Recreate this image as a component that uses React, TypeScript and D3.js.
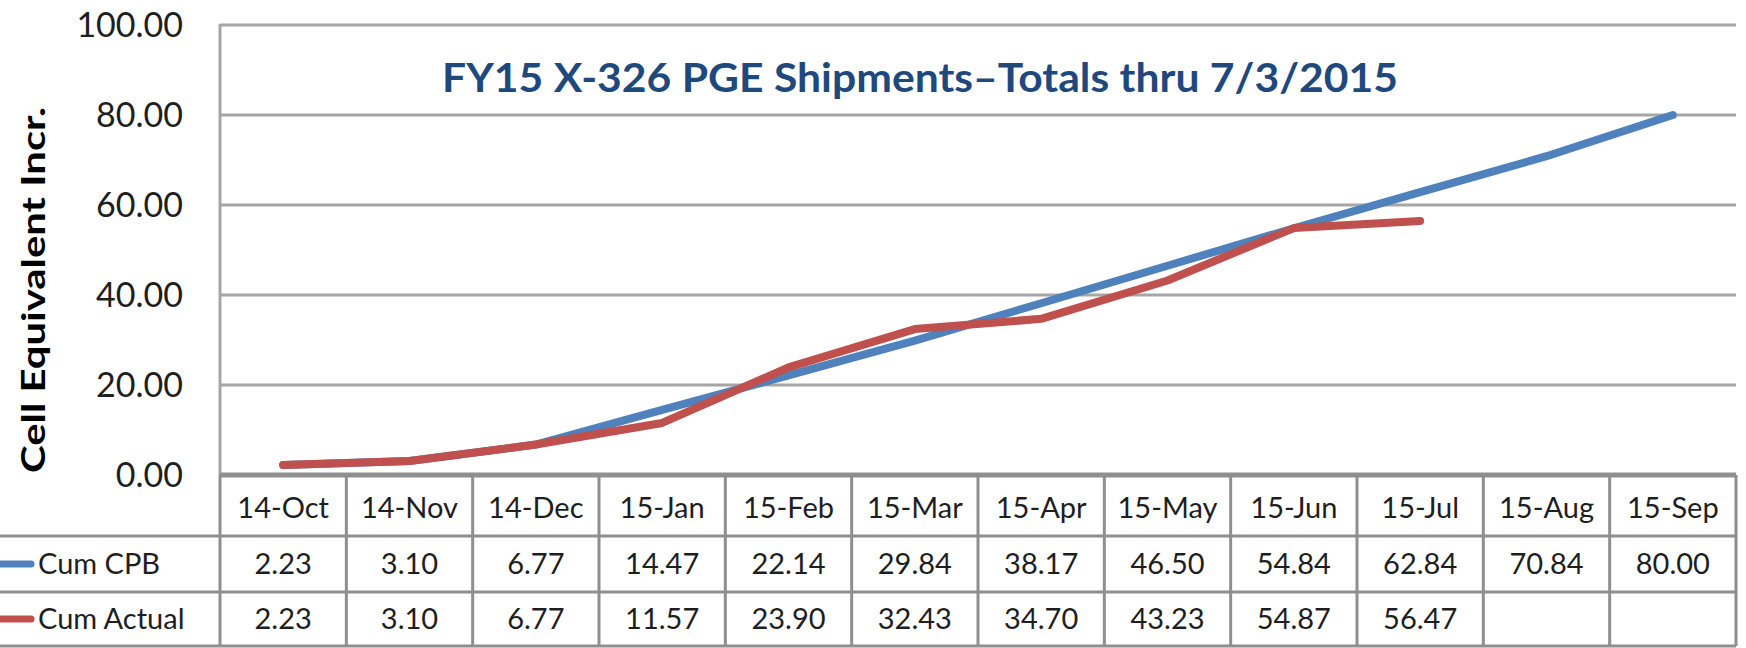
import React from "react";
import * as d3 from "d3";

const categories = ["14-Oct", "14-Nov", "14-Dec", "15-Jan", "15-Feb", "15-Mar", "15-Apr", "15-May", "15-Jun", "15-Jul", "15-Aug", "15-Sep"];
const cumCPB: (number | null)[] = [2.23, 3.10, 6.77, 14.47, 22.14, 29.84, 38.17, 46.50, 54.84, 62.84, 70.84, 80.00];
const cumActual: (number | null)[] = [2.23, 3.10, 6.77, 11.57, 23.90, 32.43, 34.70, 43.23, 54.87, 56.47, null, null];
const yTicks = [0, 20, 40, 60, 80, 100];
const seriesNames = ["Cum CPB", "Cum Actual"];
const seriesColors = ["#4F81BD", "#C0504D"];
const title = "FY15 X-326 PGE Shipments\u2013Totals thru 7/3/2015";
const yTitle = "Cell Equivalent Incr.";

const W = 1746;
const H = 648;
const plotLeft = 220;
const plotRight = 1736;
const plotTop = 25;
const plotBottom = 475;
const rowBounds = [475, 536, 592, 646];
const FONT = "Lato, 'Open Sans', sans-serif";
const GRID = "#a6a6a6";
const TBL = "#8f8f8f";

export default function App() {
  const x = d3.scaleBand<string>().domain(categories).range([plotLeft, plotRight]).padding(0);
  const y = d3.scaleLinear().domain([0, 100]).range([plotBottom, plotTop]);
  const cx = (c: string) => (x(c) as number) + x.bandwidth() / 2;

  const line = d3
    .line<number | null>()
    .defined((d) => d !== null)
    .x((_, i) => cx(categories[i]))
    .y((d) => y(d as number))
    .curve(d3.curveLinear);

  const series = [cumCPB, cumActual];

  return (
    <svg width={W} height={H} style={{ display: "block", position: "absolute", left: 0, top: 0, background: "#fff" }}>
      <rect x={0} y={0} width={W} height={H} fill="#fff" />
      {yTicks.filter((t) => t > 0).map((t) => (
        <line key={t} x1={plotLeft} x2={plotRight} y1={y(t)} y2={y(t)} stroke={GRID} strokeWidth={3} />
      ))}
      <line x1={plotLeft} x2={plotLeft} y1={plotTop - 1} y2={plotBottom} stroke={GRID} strokeWidth={3} />
      {yTicks.map((t) => (
        <text key={t} x={183} y={y(t)} dy="0.36em" textAnchor="end" fontFamily={FONT} fontSize={34} fill="#1e1e1e">
          {t.toFixed(2)}
        </text>
      ))}
      <text
        transform={`translate(45,290) rotate(-90)`}
        textAnchor="middle"
        fontFamily={FONT}
        fontWeight="bold"
        fontSize={32}
        fill="#000"
        textLength={366}
        lengthAdjust="spacingAndGlyphs"
      >
        {yTitle}
      </text>
      <text
        x={920}
        y={92}
        textAnchor="middle"
        fontFamily={FONT}
        fontWeight="bold"
        fontSize={41}
        fill="#1F497D"
        textLength={956}
        lengthAdjust="spacingAndGlyphs"
      >
        {title}
      </text>
      {series.map((s, i) => (
        <path key={i} d={line(s) || ""} fill="none" stroke={seriesColors[i]} strokeWidth={8} strokeLinecap="round" strokeLinejoin="round" />
      ))}
      <line x1={plotLeft} x2={plotRight} y1={rowBounds[0]} y2={rowBounds[0]} stroke={TBL} strokeWidth={5} />
      {rowBounds.slice(1).map((r, i) => (
        <line key={i} x1={0} x2={plotRight} y1={r} y2={r} stroke={TBL} strokeWidth={3} />
      ))}
      {[plotLeft, ...categories.map((c) => (x(c) as number) + x.bandwidth())].map((vx, i) => (
        <line key={i} x1={vx} x2={vx} y1={rowBounds[0]} y2={rowBounds[3]} stroke={TBL} strokeWidth={3} />
      ))}
      {categories.map((c) => (
        <text key={c} x={cx(c)} y={(rowBounds[0] + rowBounds[1]) / 2 + 2} dy="0.36em" textAnchor="middle" fontFamily={FONT} fontSize={29} fill="#1e1e1e">
          {c}
        </text>
      ))}
      {series.map((s, si) =>
        s.map((v, i) =>
          v === null ? null : (
            <text
              key={`${si}-${i}`}
              x={cx(categories[i])}
              y={(rowBounds[si + 1] + rowBounds[si + 2]) / 2}
              dy="0.36em"
              textAnchor="middle"
              fontFamily={FONT}
              fontSize={29}
              fill="#1e1e1e"
            >
              {v.toFixed(2)}
            </text>
          )
        )
      )}
      {seriesNames.map((n, si) => {
        const cy = (rowBounds[si + 1] + rowBounds[si + 2]) / 2;
        return (
          <g key={n}>
            <line x1={-4} x2={31} y1={cy} y2={cy} stroke={seriesColors[si]} strokeWidth={7} strokeLinecap="round" />
            <text x={38} y={cy} dy="0.36em" fontFamily={FONT} fontSize={29} fill="#1e1e1e">
              {n}
            </text>
          </g>
        );
      })}
    </svg>
  );
}
